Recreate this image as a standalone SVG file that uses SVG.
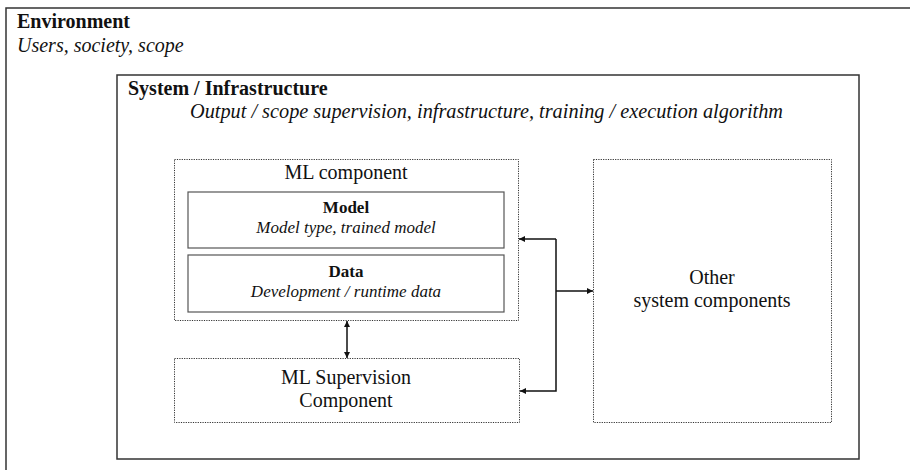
<svg xmlns="http://www.w3.org/2000/svg" width="910" height="470" viewBox="0 0 910 470">
<style>
text{font-family:"Liberation Serif","Times New Roman","DejaVu Serif",serif;fill:#111}
.b{font-weight:bold}
.i{font-style:italic}
.solid{fill:none;stroke:#333;stroke-width:1.5}
.inner{fill:none;stroke:#555;stroke-width:1.2}
.dot{fill:none;stroke:#333;stroke-width:1;stroke-dasharray:1.2 1.2}
.con{fill:none;stroke:#111;stroke-width:1.5}
</style>
<defs>
<marker id="ah" viewBox="0 0 10 10" refX="10" refY="5" markerWidth="8" markerHeight="6" markerUnits="userSpaceOnUse" orient="auto-start-reverse">
<path d="M0,0 L10,5 L0,10 z" fill="#111"/>
</marker>
</defs>
<rect width="910" height="470" fill="#fff"/>
<g id="environment">
<path class="solid" d="M6,470 V8 H910"/>
<text x="17" y="28" font-size="20" class="b">Environment</text>
<text x="17" y="52" font-size="20" class="i">Users, society, scope</text>
</g>
<g id="system">
<rect class="solid" x="117" y="75" width="742" height="384"/>
<text x="128" y="95" font-size="20" class="b">System / Infrastructure</text>
<text x="190" y="118" font-size="20.3" class="i">Output / scope supervision, infrastructure, training / execution algorithm</text>
</g>
<g id="ml-component">
<rect class="dot" x="174.5" y="159.5" width="344" height="161"/>
<text x="346" y="179" font-size="20" text-anchor="middle">ML component</text>
</g>
<g id="model">
<rect class="inner" x="188" y="192" width="316" height="56"/>
<text x="346" y="213" font-size="17" class="b" text-anchor="middle">Model</text>
<text x="346" y="233" font-size="17" class="i" text-anchor="middle">Model type, trained model</text>
</g>
<g id="data">
<rect class="inner" x="188" y="255" width="316" height="57"/>
<text x="346" y="277" font-size="17" class="b" text-anchor="middle">Data</text>
<text x="346" y="297" font-size="17" class="i" text-anchor="middle">Development / runtime data</text>
</g>
<g id="ml-supervision">
<rect class="dot" x="174.5" y="358.5" width="345" height="64"/>
<text x="346" y="384" font-size="20" text-anchor="middle">ML Supervision</text>
<text x="346" y="407" font-size="20" text-anchor="middle">Component</text>
</g>
<g id="other">
<rect class="dot" x="593.5" y="159.5" width="238" height="263"/>
<text x="712" y="284" font-size="20" text-anchor="middle">Other</text>
<text x="712" y="307" font-size="20" text-anchor="middle">system components</text>
</g>
<g id="connectors">
<path class="con" d="M347,321 V358" marker-start="url(#ah)" marker-end="url(#ah)"/>
<path class="con" d="M556,239 H519" marker-end="url(#ah)"/>
<path class="con" d="M556,239 V391 H520" marker-end="url(#ah)"/>
<path class="con" d="M556,291 H593" marker-end="url(#ah)"/>
</g>
</svg>
